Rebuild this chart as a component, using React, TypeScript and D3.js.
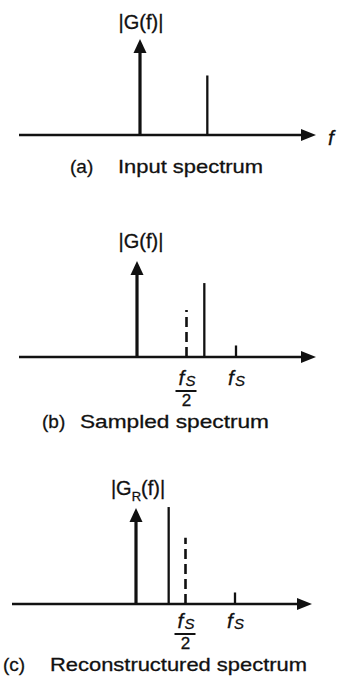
import React from 'react';
import * as d3 from 'd3';

// ---- data (frequencies in units of fs, amplitudes relative to the origin arrow) ----
const panelIds = ['a', 'b', 'c'];
const captionTags = ['(a)', '(b)', '(c)'];
const captionTexts = ['Input spectrum', 'Sampled spectrum', 'Reconstructured spectrum'];
const yLabelSubs = ['', '', 'R'];
const originAmps = [1.0, 1.0, 1.0];
const lineFreqs = [[0.68], [0.68, 1.0], [0.33, 1.0]];
const lineAmps = [[0.62], [0.77, 0.12], [1.01, 0.12]];
const foldFreqs = [null, 0.5, 0.5];
const foldAmps = [null, 0.49, 0.69];
const tickFreqs = [[], [0.5, 1.0], [0.5, 1.0]];
const tickLabels = [[], ['fs/2', 'fs'], ['fs/2', 'fs']];
const showFLabel = [true, false, false];

// ---- layout ----
const W = 337;
const H = 685;
const layout = [
  { base: 135, origin: 140, left: 19, right: 316, labelX: 141, labelY: 29, tickDy: 28, capY: 173, tagX: 70, textX: 118, textEnd: 263 },
  { base: 357, origin: 137, left: 19, right: 316, labelX: 141, labelY: 248, tickDy: 28, capY: 428, tagX: 42, textX: 80, textEnd: 269 },
  { base: 604, origin: 136, left: 12, right: 312, labelX: 138, labelY: 495, tickDy: 24, capY: 671, tagX: 3, textX: 50, textEnd: 307 },
];
const PX_PER_FS = 99;
const ARROW_PX = 96;
const FONT = "'Liberation Sans', Arial, Helvetica, sans-serif";
const INK = '#111';
const TXT = { fontFamily: FONT, fill: INK, stroke: INK, strokeWidth: 0.3 };

function FsLabel({ x, y, half }: { x: number; y: number; half: boolean }) {
  return (
    <g>
      <text {...TXT} x={x - 8} y={y} fontStyle="italic" fontSize={21}>f</text>
      <text {...TXT} x={x - 1} y={y + 1} fontStyle="italic" fontSize={15}>S</text>
      {half && (
        <>
          <line x1={x - 11} x2={x + 10} y1={y + 6} y2={y + 6} stroke={INK} strokeWidth={2} />
          <text {...TXT} x={x} y={y + 21} fontSize={17} textAnchor="middle">2</text>
        </>
      )}
    </g>
  );
}

function Panel({ i }: { i: number }) {
  const L = layout[i];
  const x = d3.scaleLinear().domain([0, 1]).range([L.origin, L.origin + PX_PER_FS]);
  const y = d3.scaleLinear().domain([0, 1]).range([L.base, L.base - ARROW_PX]);
  const tipX = L.right;
  const originTip = y(originAmps[i]);
  const headLen = 14;
  return (
    <g>
      {/* horizontal axis with arrow */}
      <line x1={L.left} x2={tipX - headLen} y1={L.base} y2={L.base} stroke={INK} strokeWidth={2.6} />
      <path d={`M${tipX},${L.base} L${tipX - 15},${L.base - 6} L${tipX - 15},${L.base + 6} Z`} fill={INK} />
      {/* origin arrow */}
      <line x1={x(0)} x2={x(0)} y1={L.base} y2={originTip + headLen} stroke={INK} strokeWidth={3.2} />
      <path d={`M${x(0)},${originTip} L${x(0) - 6.5},${originTip + headLen} L${x(0) + 6.5},${originTip + headLen} Z`} fill={INK} />
      {/* spectral lines */}
      {lineFreqs[i].map((f, k) => (
        <line key={k} x1={x(f)} x2={x(f)} y1={L.base} y2={y(lineAmps[i][k])} stroke={INK} strokeWidth={2.3} />
      ))}
      {/* folding frequency marker */}
      {foldFreqs[i] !== null && (
        <line x1={x(foldFreqs[i] as number)} x2={x(foldFreqs[i] as number)} y1={L.base} y2={y(foldAmps[i] as number)}
          stroke={INK} strokeWidth={2.6} strokeDasharray="10,5" />
      )}
      {/* tick labels */}
      {tickFreqs[i].map((f, k) => (
        <FsLabel key={k} x={x(f)} y={L.base + L.tickDy} half={tickLabels[i][k] === 'fs/2'} />
      ))}
      {/* y label */}
      <text {...TXT} x={L.labelX} y={L.labelY} fontSize={20} textAnchor="middle">
        |G{yLabelSubs[i] && <tspan fontSize={13} dy={6}>{yLabelSubs[i]}</tspan>}
        {yLabelSubs[i] ? <tspan dy={-6}>(f)|</tspan> : '(f)|'}
      </text>
      {showFLabel[i] && (
        <text {...TXT} x={328} y={L.base + 10} fontStyle="italic" fontSize={21}>f</text>
      )}
      {/* caption */}
      <text {...TXT} x={L.tagX} y={L.capY} fontSize={19}>{captionTags[i]}</text>
      <text {...TXT} x={L.textX} y={L.capY} fontSize={19}
        textLength={L.textEnd - L.textX} lengthAdjust="spacingAndGlyphs">{captionTexts[i]}</text>
    </g>
  );
}

export default function App() {
  return (
    <svg width={W} height={H} viewBox={`0 0 ${W} ${H}`} style={{ position: 'absolute', left: 0, top: 0, background: '#fff' }}>
      <rect width={W} height={H} fill="#fff" />
      {panelIds.map((id, i) => <Panel key={id} i={i} />)}
    </svg>
  );
}
